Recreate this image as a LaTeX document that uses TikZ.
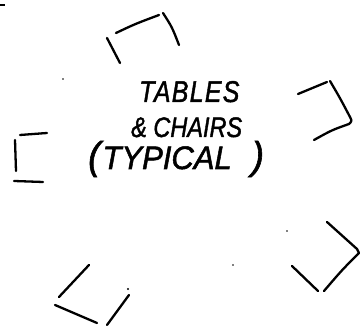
\documentclass[tikz,border=0pt]{standalone}
\usepackage{fontspec}
\usepackage{graphicx}
\setmainfont{Liberation Sans}
\newfontfamily\handfont[FakeBold=1.6]{Liberation Sans}
\tikzset{
  pen/.style={line width=2.3pt, line cap=round, line join=round, black},
  hand/.style={inner sep=0pt, anchor=base west, font=\handfont\itshape},
  speck/.style={fill=black, draw=none}
}
\begin{document}
\begin{tikzpicture}[x=1pt, y=-1pt]
\useasboundingbox (0,0) rectangle (360,336);
% top chair/table bracket
\draw[pen] (107,38) -- (120,63);
\draw[pen] (116,33) .. controls (135,24) .. (159,15);
\draw[pen] (163,13) .. controls (172,27) .. (179,45);
% right upper bracket
\draw[pen] (298,94) -- (327,82);
\draw[pen] (330,81) .. controls (340,98) .. (350,117) .. controls (352,121) .. (349,124)
           .. controls (332,130) .. (314,140);
% left bracket
\draw[pen] (20,135) -- (47,133);
\draw[pen] (15,140) -- (16,171);
\draw[pen] (14,181) -- (43,182);
% bottom right bracket
\draw[pen] (292,266) -- (318,291);
\draw[pen] (327,222) .. controls (342,236) .. (357,249) -- (359,253)
           .. controls (342,270) .. (324,291);
% bottom left bracket
\draw[pen] (89,265) -- (59,297);
\draw[pen] (55,305) .. controls (76,313) .. (97,323);
\draw[pen] (129,295) -- (107,325);
% specks
\fill[speck] (0,4.5) rectangle (5,6.5);
\fill[speck] (63,79) circle (0.8);
\fill[speck] (287,231) circle (0.8);
\fill[speck] (233,265) circle (0.8);
\fill[speck] (128,289) circle (1.1);
% text
\node[hand, font=\handfont\itshape\fontsize{25}{26}\selectfont\addfontfeature{LetterSpace=5}] (tables) at (139,102) {\scalebox{1}[1.2]{TABLES}};
\node[hand, font=\handfont\itshape\fontsize{23.5}{24}\selectfont] (chairs) at (131,137) {\scalebox{1}[1.2]{\& CHAIRS}};
\node[hand, font=\handfont\itshape\fontsize{31}{32}\selectfont] (typical) at (88,169) {\scalebox{1}[1.05]{{\fontsize{37}{38}\selectfont(}\hspace{2pt}TYPICAL\hspace{20pt}{\fontsize{37}{38}\selectfont)}}};
\end{tikzpicture}
\end{document}
